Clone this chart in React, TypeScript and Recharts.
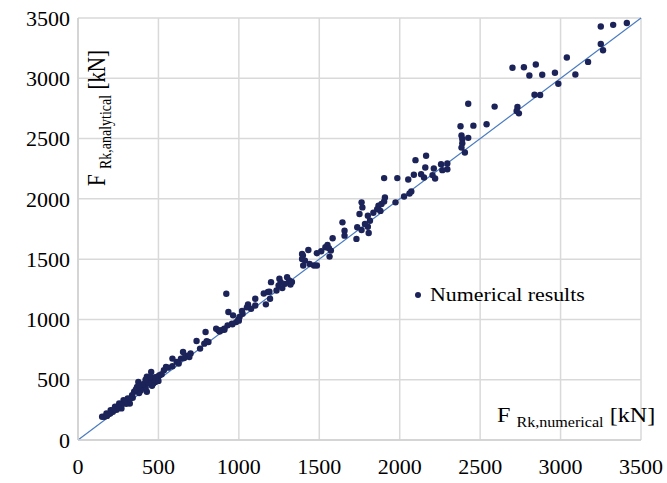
import React from "react";
import {
  ScatterChart,
  Scatter,
  XAxis,
  YAxis,
  CartesianGrid,
  ReferenceLine,
} from "recharts";

// F_Rk,numerical [kN]
const numerical = [
  3412, 3327, 3250, 3250, 3264, 3171, 3092, 3039, 2986, 2965, 2886, 2846, 2806, 2772, 2701,
  2873, 2838, 2732, 2741, 2727, 2590, 2540, 2458, 2426, 2426, 2378, 2384, 2389, 2389, 2384,
  2405, 2296, 2296, 2257, 2265, 2212, 2204, 2220, 2164, 2159, 2151, 2133, 2098, 2088, 2053,
  2072, 2061, 2027, 1985, 1974, 1903, 1908, 1903, 1887, 1868, 1860, 1836, 1802, 1815, 1802,
  1763, 1768, 1750, 1763, 1807, 1784, 1736, 1731, 1657, 1644, 1657, 1583, 1572, 1564, 1538,
  1551, 1512, 1485, 1467, 1485, 1432, 1411, 1398, 1393, 1400, 1393, 1321, 1313, 1287, 1300,
  1260, 1252, 1247, 1234, 1200, 1181, 1194, 1168, 1155, 1102, 1102, 1076, 1057, 1023, 1004,
  996, 983, 964, 957, 935, 922, 930, 909, 891, 872, 859, 811, 793, 785, 759,
  737, 700, 692, 653, 640, 626, 613, 587, 587, 547, 534, 507, 494, 481, 468,
  455, 441, 428, 415, 402, 428, 375, 367, 349, 336, 322, 309, 283, 270, 256,
  230, 217, 203, 177, 164, 150,
  1440, 1560, 1880, 1190, 1270, 1330, 1020, 1050, 960, 1000, 910, 880, 800, 680, 660,
  560, 520, 500, 470, 460, 450, 440, 420, 400, 390, 380, 360, 340, 320, 300,
  290, 270, 250, 240, 220, 200, 190, 180, 380, 420, 480, 500,
];

// F_Rk,analytical [kN]
const analytical = [
  3459, 3443, 3429, 3285, 3233, 3136, 3032, 3172, 2955, 3046, 3029, 3114, 3023, 3092, 3087,
  2861, 2864, 2762, 2709, 2729, 2765, 2619, 2607, 2789, 2506, 2602, 2525, 2497, 2461, 2425,
  2384, 2293, 2246, 2288, 2238, 2252, 2197, 2169, 2357, 2260, 2177, 2205, 2321, 2200, 2161,
  2062, 2045, 2020, 2172, 1971, 2172, 2012, 1979, 1957, 1943, 1915, 1885, 1860, 1819, 1769,
  1971, 1929, 1874, 1742, 1717, 1792, 1764, 1668, 1736, 1805, 1695, 1673, 1571, 1521, 1599,
  1618, 1566, 1447, 1447, 1549, 1576, 1488, 1530, 1543, 1447, 1502, 1290, 1323, 1295, 1350,
  1309, 1337, 1282, 1240, 1309, 1227, 1171, 1125, 1215, 1171, 1116, 1089, 1125, 1047, 1020,
  998, 978, 1034, 965, 1061, 1213, 951, 923, 910, 910, 923, 813, 896, 799, 758,
  821, 717, 689, 730, 675, 634, 648, 675, 612, 606, 579, 537, 510, 482, 469,
  565, 496, 524, 469, 441, 400, 482, 441, 400, 372, 303, 345, 331, 262, 303,
  276, 234, 248, 220, 193, 193,
  1460, 1590, 1900, 1230, 1260, 1310, 1070, 1100, 960, 990, 915, 900, 820, 700, 680,
  600, 545, 530, 500, 450, 520, 470, 430, 460, 410, 390, 420, 350, 340, 300,
  320, 290, 270, 250, 250, 220, 215, 200, 450, 500, 520, 490,
];

const axisTicks = [0, 500, 1000, 1500, 2000, 2500, 3000, 3500];
const parityLine = [0, 3500];

const data = numerical.map((x, i) => ({ x, y: analytical[i] }));

const SERIF = "'Liberation Serif', 'Times New Roman', serif";
const DOT = "#1b2359";
const STRETCH = 1.15;

const XTick = (props: any) => {
  const { x, y, payload } = props;
  return (
    <text
      x={x}
      y={y}
      textAnchor="middle"
      dy="0.71em"
      fontSize={22}
      fontFamily={SERIF}
      fill="#000"
    >
      {payload.value}
    </text>
  );
};

const YTick = (props: any) => {
  const { x, y, payload } = props;
  return (
    <text
      x={x}
      y={y}
      textAnchor="end"
      dy="0.35em"
      fontSize={22}
      fontFamily={SERIF}
      fill="#000"
    >
      {payload.value}
    </text>
  );
};

const XTitle = () => (
  <text
    transform={`translate(497,422) scale(${STRETCH},1)`}
    fontFamily={SERIF}
    fontSize={21}
    fill="#000"
  >
    <tspan>F </tspan>
    <tspan fontSize={14} dy={5}>
      Rk,numerical
    </tspan>
    <tspan dy={-5}> [kN]</tspan>
  </text>
);

const YTitle = () => (
  <text
    transform={`translate(105,186) rotate(-90) scale(1,${STRETCH})`}
    fontFamily={SERIF}
    fontSize={21}
    fill="#000"
  >
    <tspan>F </tspan>
    <tspan fontSize={14} dy={5}>
      Rk,analytical
    </tspan>
    <tspan dy={-5}> [kN]</tspan>
  </text>
);

const Dot = (props: any) => {
  const { cx, cy } = props;
  return <circle cx={cx} cy={cy} r={3.2} fill={DOT} />;
};

export default function App() {
  return (
    <div
      style={{
        position: "fixed",
        left: 0,
        top: 0,
        width: 667,
        height: 483,
        background: "#fff",
      }}
    >
      <ScatterChart
        width={667}
        height={483}
        margin={{ top: 18, right: 26, bottom: 0, left: 0 }}
      >
        <CartesianGrid stroke="#d9d9d9" strokeWidth={1.5} />
        <XAxis
          type="number"
          dataKey="x"
          domain={[0, 3500]}
          ticks={axisTicks}
          height={43}
          tickLine={false}
          tickSize={0}
          tickMargin={18}
          tick={<XTick />}
          axisLine={{ stroke: "#d0d0d0", strokeWidth: 1.5 }}
          label={{ content: () => <XTitle /> }}
        />
        <YAxis
          type="number"
          dataKey="y"
          domain={[0, 3500]}
          ticks={axisTicks}
          width={78}
          tickLine={false}
          tickSize={0}
          tickMargin={8}
          tick={<YTick />}
          axisLine={{ stroke: "#d0d0d0", strokeWidth: 1.5 }}
          label={{ content: () => <YTitle /> }}
        />
        <ReferenceLine
          segment={[
            { x: parityLine[0], y: parityLine[0] },
            { x: parityLine[1], y: parityLine[1] },
          ]}
          stroke="#4a7bc0"
          strokeWidth={1.2}
          ifOverflow="visible"
        />
        <Scatter
          name="Numerical results"
          data={data}
          shape={<Dot />}
          isAnimationActive={false}
        />
      </ScatterChart>
      <div
        style={{
          position: "absolute",
          left: 415,
          top: 284,
          display: "flex",
          alignItems: "center",
          fontFamily: SERIF,
          fontSize: 19,
          color: "#000",
          whiteSpace: "nowrap",
        }}
      >
        <span
          style={{
            display: "inline-block",
            width: 6,
            height: 6,
            borderRadius: 3,
            background: DOT,
            marginRight: 9,
          }}
        />
        <span
          style={{
            display: "inline-block",
            transform: `scaleX(${STRETCH})`,
            transformOrigin: "left center",
          }}
        >
          Numerical results
        </span>
      </div>
    </div>
  );
}
